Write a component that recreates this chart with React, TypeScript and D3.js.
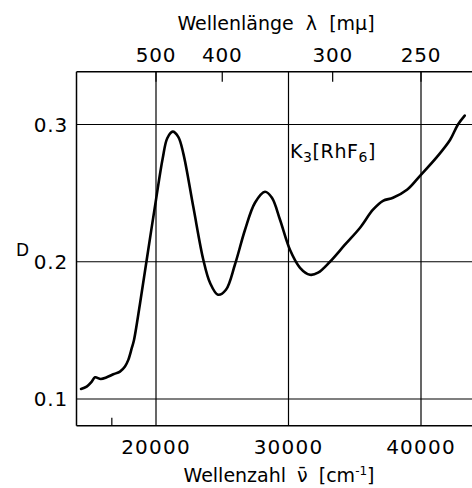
import React from "react";
import * as d3 from "d3";

const wavenumber = [
  14340, 14770, 15150, 15400, 15830, 16280, 16780, 17280, 17660, 17910, 18170, 18340,
  18800, 19300, 20000, 20500, 20850, 21260, 21680, 22060, 22815, 23570, 24075, 24680,
  25280, 25960, 26720, 27470, 28226, 28750, 29360, 30110, 30870, 31620, 32230, 33130,
  34260, 35400, 36377, 37132, 37887, 38943, 39925, 41208, 42189, 42790, 43300,
];
const absorbance = [
  0.1073, 0.109, 0.1126, 0.1158, 0.1146, 0.1158, 0.118, 0.12, 0.1237, 0.1285, 0.137, 0.143,
  0.17, 0.2015, 0.2452, 0.275, 0.29, 0.2948, 0.291, 0.279, 0.24, 0.2015, 0.1847, 0.176,
  0.1796, 0.198, 0.2233, 0.243, 0.251, 0.2466, 0.2306, 0.2087, 0.1956, 0.1905, 0.192, 0.2,
  0.2124, 0.2248, 0.2379, 0.2444, 0.2466, 0.2524, 0.2626, 0.2764, 0.2887, 0.3, 0.3065,
];

const xGridTicks = [20000, 30000, 40000];
const xTickLabels = ["20000", "30000", "40000"];
const yTicks = [0.1, 0.2, 0.3];
const yTickLabels = ["0.1", "0.2", "0.3"];
const wavelengthTicks = [500, 400, 300, 250];
const wavelengthLabels = ["500", "400", "300", "250"];
const bottomMinorWavelength = [600];

const W = 472;
const H = 488;
const left = 76.5;
const top = 71.7;
const bottom = 425.7;

export default function App() {
  const x = d3.scaleLinear().domain([14000, 44000]).range([left, left + 30 * 13.25]);
  const y = d3.scaleLinear().domain([0.1, 0.3]).range([399, 124.5]);
  const data = wavenumber.map((w, i) => [w, absorbance[i]] as [number, number]);
  const line = d3
    .line<[number, number]>()
    .x((d) => x(d[0]))
    .y((d) => y(d[1]))
    .curve(d3.curveCatmullRom.alpha(0.5));
  const font = "'DejaVu Sans', sans-serif";
  const lam = (nm: number) => 1e7 / nm;

  return (
    <svg
      width={W}
      height={H}
      style={{ position: "absolute", left: 0, top: 0, background: "#fff" }}
      fontFamily={font}
    >
      <rect width={W} height={H} fill="#fff" />
      {/* frame */}
      <line x1={left} x2={W} y1={top} y2={top} stroke="#000" strokeWidth={1.5} />
      <line x1={left} x2={W} y1={bottom} y2={bottom} stroke="#000" strokeWidth={1.5} />
      <line x1={left} x2={left} y1={top} y2={bottom} stroke="#000" strokeWidth={1.5} />
      {/* vertical grid */}
      {xGridTicks.map((t) => (
        <line key={t} x1={x(t)} x2={x(t)} y1={top} y2={bottom} stroke="#000" strokeWidth={1.2} />
      ))}
      {/* horizontal grid */}
      {yTicks.map((t) => (
        <line key={t} x1={left} x2={W} y1={y(t)} y2={y(t)} stroke="#000" strokeWidth={1.2} />
      ))}
      {/* top wavelength ticks */}
      {wavelengthTicks.map((nm) => (
        <line key={nm} x1={x(lam(nm))} x2={x(lam(nm))} y1={top} y2={top + 10} stroke="#000" strokeWidth={1.2} />
      ))}
      {bottomMinorWavelength.map((nm) => (
        <line key={nm} x1={x(lam(nm))} x2={x(lam(nm))} y1={bottom} y2={bottom - 8} stroke="#000" strokeWidth={1.2} />
      ))}
      {/* curve */}
      <path d={line(data) || ""} fill="none" stroke="#000" strokeWidth={2.6} strokeLinejoin="round" strokeLinecap="round" />
      {/* labels */}
      {xGridTicks.map((t, i) => (
        <text key={t} x={x(t)} y={454} textAnchor="middle" fontSize={20} letterSpacing={1.2}>
          {xTickLabels[i]}
        </text>
      ))}
      {wavelengthTicks.map((nm, i) => (
        <text key={nm} x={x(lam(nm))} y={62} textAnchor="middle" fontSize={20} letterSpacing={0.8}>
          {wavelengthLabels[i]}
        </text>
      ))}
      {yTicks.map((t, i) => (
        <text key={t} x={68} y={y(t)} dy="0.36em" textAnchor="end" fontSize={20} letterSpacing={0.8}>
          {yTickLabels[i]}
        </text>
      ))}
      <text x={16} y={256} fontSize={17}>D</text>
      <text x={276} y={30} textAnchor="middle" fontSize={19} wordSpacing={6}>
        Wellenlänge λ [mμ]
      </text>
      <text x={279} y={482} textAnchor="middle" fontSize={19} wordSpacing={5}>
        Wellenzahl ν̄ [cm
        <tspan dy={-7} fontSize={12}>-1</tspan>
        <tspan dy={7}>]</tspan>
      </text>
      <text x={290} y={158} fontSize={19} letterSpacing={0.6}>
        K<tspan dy={4} fontSize={14}>3</tspan>
        <tspan dy={-4}>[RhF</tspan>
        <tspan dy={4} fontSize={14}>6</tspan>
        <tspan dy={-4}>]</tspan>
      </text>
    </svg>
  );
}
